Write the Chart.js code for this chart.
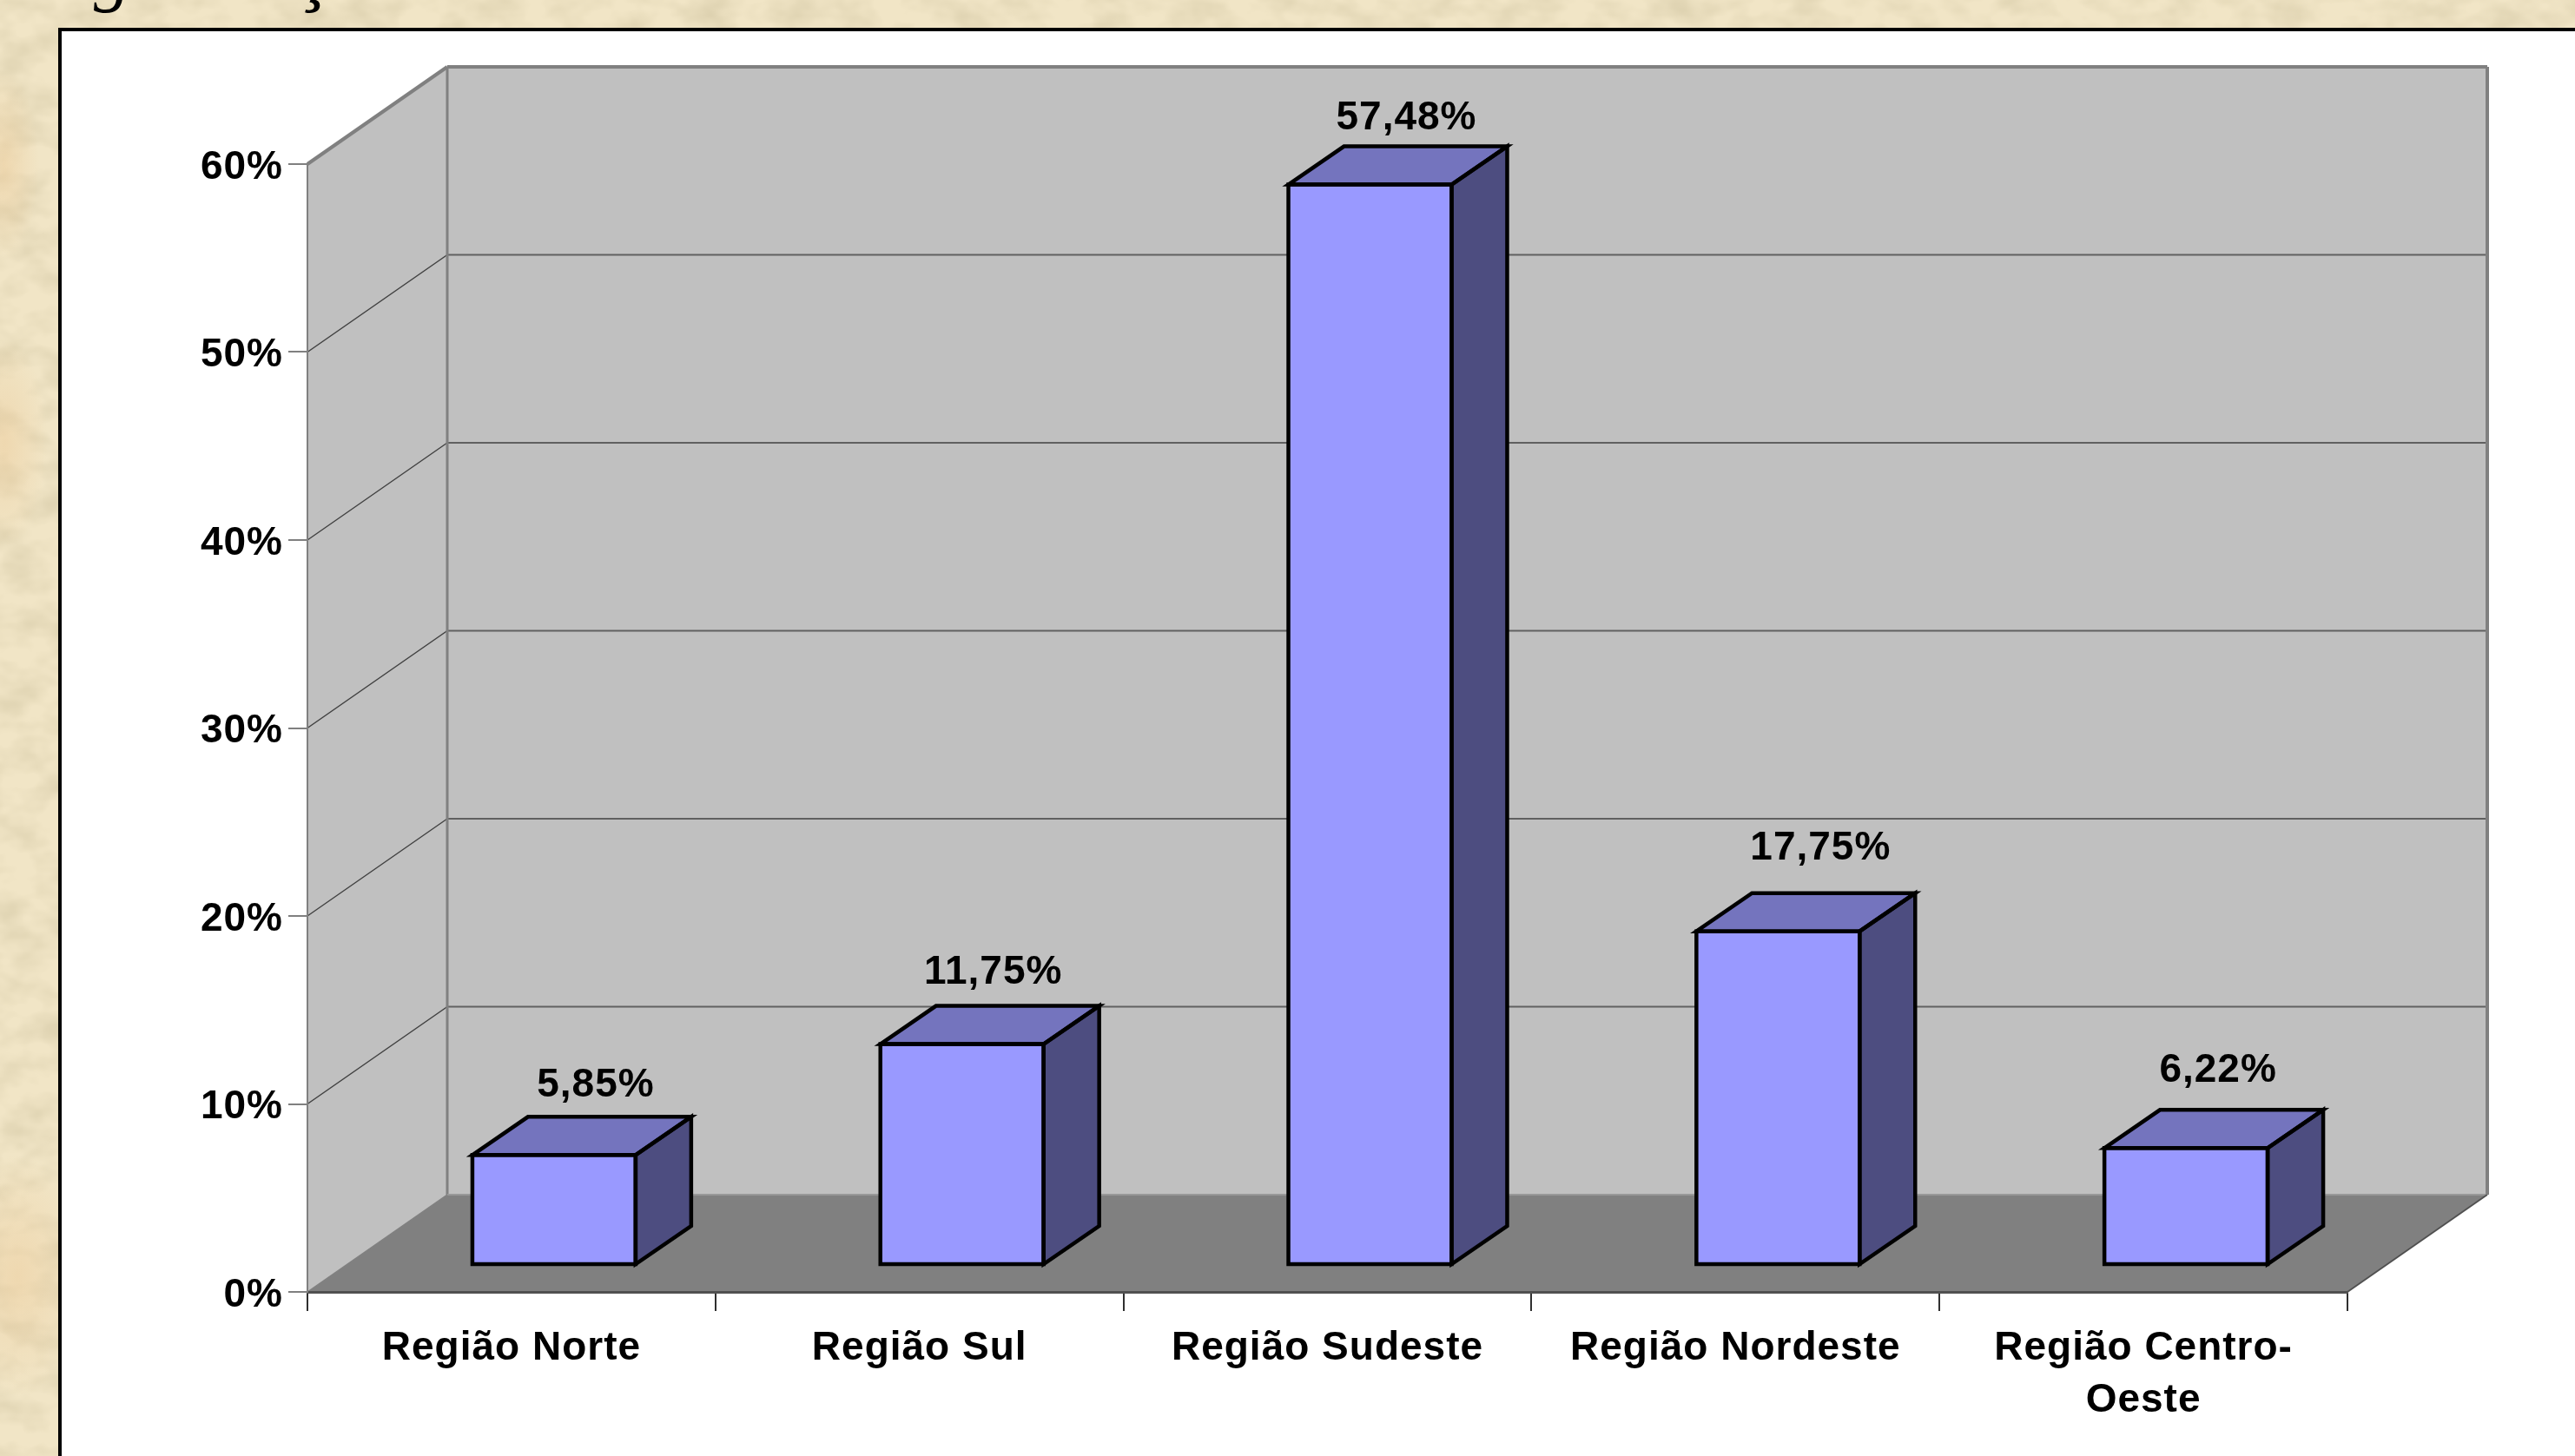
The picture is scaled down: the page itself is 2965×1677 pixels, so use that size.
<!DOCTYPE html>
<html lang="pt">
<head>
<meta charset="utf-8">
<title>Região</title>
<script src="https://cdn.jsdelivr.net/npm/chart.js@4/dist/chart.umd.min.js"></script>
<style>
  html, body { margin: 0; padding: 0; width: 2965px; height: 1677px; overflow: hidden; background: #EFE1BD; }
  #paper { position: absolute; left: 0; top: 0; width: 2965px; height: 1677px; }
  #wrap { position: absolute; left: 0; top: 0; width: 2965px; height: 1677px; }
  canvas { display: block; }
</style>
</head>
<body>
<svg id="paper" xmlns="http://www.w3.org/2000/svg" width="2965" height="1677">
  <defs>
    <filter id="tex" x="0" y="0" width="100%" height="100%">
      <feTurbulence type="fractalNoise" baseFrequency="0.02 0.03" numOctaves="3" seed="7"/>
      <feColorMatrix type="matrix" values="0 0 0 0 0.66  0 0 0 0 0.58  0 0 0 0 0.38  1.3 0 0 0 -0.50"/>
    </filter>
    <radialGradient id="warm">
      <stop offset="0" stop-color="#EBC48E" stop-opacity="0.4"/>
      <stop offset="1" stop-color="#EBC48E" stop-opacity="0"/>
    </radialGradient>
  </defs>
  <rect width="2965" height="1677" fill="#F1E5C6"/>
  <rect width="2965" height="1677" filter="url(#tex)"/>
  <ellipse cx="20" cy="1470" rx="80" ry="140" fill="url(#warm)"/>
  <ellipse cx="5" cy="510" rx="50" ry="120" fill="url(#warm)"/>
  <ellipse cx="5" cy="190" rx="40" ry="110" fill="url(#warm)"/>
</svg>
<div id="wrap"><canvas id="c" width="2965" height="1677"></canvas></div>
<script>
// ---- data ----
const categories = ['Região Norte', 'Região Sul', 'Região Sudeste', 'Região Nordeste', ['Região Centro-', 'Oeste']];
const shares = [5.85, 11.75, 57.48, 17.75, 6.22];
const shareLabels = ['5,85%', '11,75%', '57,48%', '17,75%', '6,22%'];
const axisMin = 0;
const axisMax = 60;
const axisStep = 10;

// ---- style / geometry of the 3-D look ----
const FONT = 'bold 46px "Liberation Sans"';
const SPACING = '1px';
const WALL_DX = 161, WALL_DY = -112;      // depth of the room
const BAR_SHIFT_X = 49, BAR_SHIFT_Y = -31; // bars stand inside the room
const BAR_DX = 64, BAR_DY = -44;          // depth of a bar
const LABEL_OFFSETS = [[97, -111], [85, -113], [91, -107], [98, -126], [86, -120]]; // from the bar's own point

function poly(ctx, pts, fill, stroke, lw) {
  ctx.beginPath();
  pts.forEach((p, i) => i ? ctx.lineTo(p[0], p[1]) : ctx.moveTo(p[0], p[1]));
  ctx.closePath();
  if (fill) { ctx.fillStyle = fill; ctx.fill(); }
  if (stroke) { ctx.strokeStyle = stroke; ctx.lineWidth = lw; ctx.stroke(); }
}
function seg(ctx, x1, y1, x2, y2, color, lw) {
  ctx.beginPath(); ctx.moveTo(x1, y1); ctx.lineTo(x2, y2);
  ctx.strokeStyle = color; ctx.lineWidth = lw; ctx.stroke();
}

const room = {
  id: 'room',
  beforeLayout(chart) { chart.ctx.letterSpacing = SPACING; },
  beforeDraw(chart) {
    const ctx = chart.ctx, x = chart.scales.x, y = chart.scales.y;
    ctx.letterSpacing = SPACING;
    ctx.save();

    // fragments of the cut-off line of text above the panel
    ctx.letterSpacing = '0px';
    ctx.fillStyle = '#000';
    ctx.font = 'italic 85px "Liberation Serif"';
    ctx.textAlign = 'left'; ctx.textBaseline = 'alphabetic';
    ctx.fillText('g', 108, -3);
    ctx.fillText('ç', 345, -3);

    // white panel with black frame
    ctx.fillStyle = '#fff';
    ctx.fillRect(69, 34, 2965 - 69, 1677 - 34);
    ctx.strokeStyle = '#000'; ctx.lineWidth = 4;
    ctx.beginPath(); ctx.moveTo(69, 1677); ctx.lineTo(69, 34); ctx.lineTo(2965, 34); ctx.stroke();

    const L = x.left, R = x.right, T = y.getPixelForValue(axisMax), B = y.getPixelForValue(axisMin);
    const bl = L + WALL_DX, br = R + WALL_DX, bt = T + WALL_DY, bb = B + WALL_DY;

    // walls and floor
    poly(ctx, [[L, T], [bl, bt], [bl, bb], [L, B]], '#C0C0C0');
    poly(ctx, [[bl, bt], [br, bt], [br, bb], [bl, bb]], '#C0C0C0');
    poly(ctx, [[L, B], [bl, bb], [br, bb], [R, B]], '#808080');

    // gridlines on side and back wall
    y.ticks.forEach(t => {
      if (t.value === axisMin || t.value === axisMax) return;
      const py = y.getPixelForValue(t.value);
      seg(ctx, L, py, bl, py + WALL_DY, '#404040', 1.5);
      seg(ctx, bl, py + WALL_DY, br, py + WALL_DY, '#606060', 2);
    });

    // room outline
    ctx.lineJoin = 'miter';
    seg(ctx, L, T, bl, bt, '#808080', 4);
    seg(ctx, bl, bt, br, bt, '#808080', 4);
    seg(ctx, br, bt, br, bb, '#808080', 4);
    seg(ctx, bl, bt, bl, bb, '#808080', 3);
    seg(ctx, bl, bb, br, bb, '#989898', 2);
    seg(ctx, L, B, bl, bb, '#808080', 1.5);
    seg(ctx, R, B, br, bb, '#505050', 2);
    ctx.restore();
  },
  beforeDatasetsDraw(chart) {
    const ctx = chart.ctx;
    ctx.save();
    ctx.translate(BAR_SHIFT_X, BAR_SHIFT_Y);
    // side and top faces go behind the front face the library draws
    chart.getDatasetMeta(0).data.forEach(b => {
      const l = b.x - b.width / 2, r = b.x + b.width / 2;
      poly(ctx, [[r, b.y], [r + BAR_DX, b.y + BAR_DY], [r + BAR_DX, b.base + BAR_DY], [r, b.base]], '#4D4D80');
      poly(ctx, [[l, b.y], [l + BAR_DX, b.y + BAR_DY], [r + BAR_DX, b.y + BAR_DY], [r, b.y]], '#7474BE');
    });
  },
  afterDatasetsDraw(chart) {
    const ctx = chart.ctx;
    const lw = 4.5;
    chart.getDatasetMeta(0).data.forEach(b => {
      const l = b.x - b.width / 2, r = b.x + b.width / 2;
      ctx.lineJoin = 'miter';
      poly(ctx, [[l, b.y], [r, b.y], [r, b.base], [l, b.base]], null, '#000', lw);
      poly(ctx, [[l, b.y], [l + BAR_DX, b.y + BAR_DY], [r + BAR_DX, b.y + BAR_DY], [r, b.y]], null, '#000', lw);
      poly(ctx, [[r, b.y], [r + BAR_DX, b.y + BAR_DY], [r + BAR_DX, b.base + BAR_DY], [r, b.base]], null, '#000', lw);
    });
    ctx.restore();

    // value labels
    ctx.save();
    ctx.letterSpacing = SPACING;
    ctx.font = FONT;
    ctx.fillStyle = '#000';
    ctx.textAlign = 'center';
    ctx.textBaseline = 'middle';
    chart.getDatasetMeta(0).data.forEach((b, i) => {
      ctx.fillText(shareLabels[i], b.x + LABEL_OFFSETS[i][0], b.y + LABEL_OFFSETS[i][1]);
    });
    ctx.restore();
  }
};

const tickFont = { family: '"Liberation Sans"', size: 46, weight: 'bold', lineHeight: 60 / 46 };

new Chart(document.getElementById('c'), {
  type: 'bar',
  data: {
    labels: categories,
    datasets: [{
      label: 'Região',
      data: shares,
      backgroundColor: '#9999FF',
      borderWidth: 0,
      barPercentage: 0.4,
      categoryPercentage: 1
    }]
  },
  options: {
    responsive: false,
    devicePixelRatio: 1,
    animation: false,
    events: [],
    layout: { padding: { left: 0, top: 189, right: 262, bottom: 0 } },
    plugins: { legend: { display: false }, title: { display: false }, tooltip: { enabled: false } },
    scales: {
      x: {
        type: 'category',
        offset: true,
        afterFit(s) { s.height = 189; },
        border: { display: true, color: '#505050', width: 3 },
        grid: { offset: true, drawOnChartArea: false, drawTicks: true, tickLength: 22, tickColor: '#303030', tickWidth: 2, color: '#303030', lineWidth: 2 },
        ticks: { color: '#000', font: tickFont, padding: 13, autoSkip: false, maxRotation: 0, minRotation: 0 }
      },
      y: {
        type: 'linear',
        min: axisMin,
        max: axisMax,
        afterFit(s) { s.width = 354; },
        border: { display: true, color: '#808080', width: 2 },
        grid: { drawOnChartArea: false, drawTicks: true, tickLength: 22, tickColor: '#808080', tickWidth: 2, color: '#808080', lineWidth: 2 },
        ticks: { stepSize: axisStep, color: '#000', font: tickFont, padding: 6, labelOffset: 4, callback: v => v + '%' }
      }
    }
  },
  plugins: [room]
});
</script>
</body>
</html>
